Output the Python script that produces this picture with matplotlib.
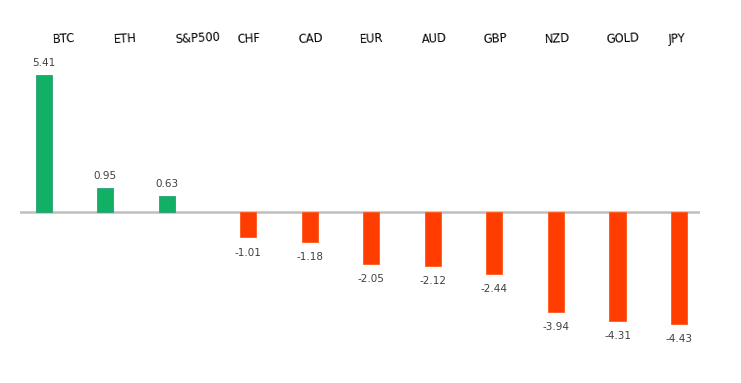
import numpy as np
import matplotlib
matplotlib.use('Agg')
import matplotlib.pyplot as plt

# --- data ---
assets = ['BTC', 'ETH', 'S&P500', 'CHF', 'CAD', 'EUR', 'AUD', 'GBP', 'NZD', 'GOLD', 'JPY']
changes = [5.41, 0.95, 0.63, -1.01, -1.18, -2.05, -2.12, -2.44, -3.94, -4.31, -4.43]

vals = np.array(changes)
x = np.arange(len(assets))
gains = np.where(vals > 0, vals, np.nan)
losses = np.where(vals < 0, vals, np.nan)

fig = plt.figure(figsize=(7.41, 3.83), dpi=100)
ax = fig.add_axes([20 / 741, 23 / 383, 680 / 741, 340 / 383])

w = 0.26
off = 0.16
ax.bar(x - off, gains, width=w, color='#12B064', edgecolor='#2A9E78', linewidth=0.6)
ax.bar(x + off, losses, width=w, color='#FF3D00', edgecolor='#FF5A1A', linewidth=0.6)

# zero line
ax.axhline(0, color='#BFBFBF', linewidth=1.8, zorder=0)

# value labels
for i, v in enumerate(vals):
    if v > 0:
        ax.text(x[i] - off, v + 0.25, f'{v:.2f}', ha='center', va='bottom',
                fontsize=7.5, color='#404040')
    else:
        ax.text(x[i] + off, v - 0.4, f'{v:.2f}', ha='center', va='top',
                fontsize=7.5, color='#404040')

# category labels along the top
for i, name in enumerate(assets):
    ax.text(x[i] - 0.02, 6.78, name, ha='left', va='center', rotation=3,
            rotation_mode='anchor', fontsize=8.3, color='#000000')

ax.set_xlim(-0.545, 10.5)
ax.set_ylim(-5.84, 7.56)
ax.axis('off')

fig.savefig('out.png', dpi=100, facecolor='white')
